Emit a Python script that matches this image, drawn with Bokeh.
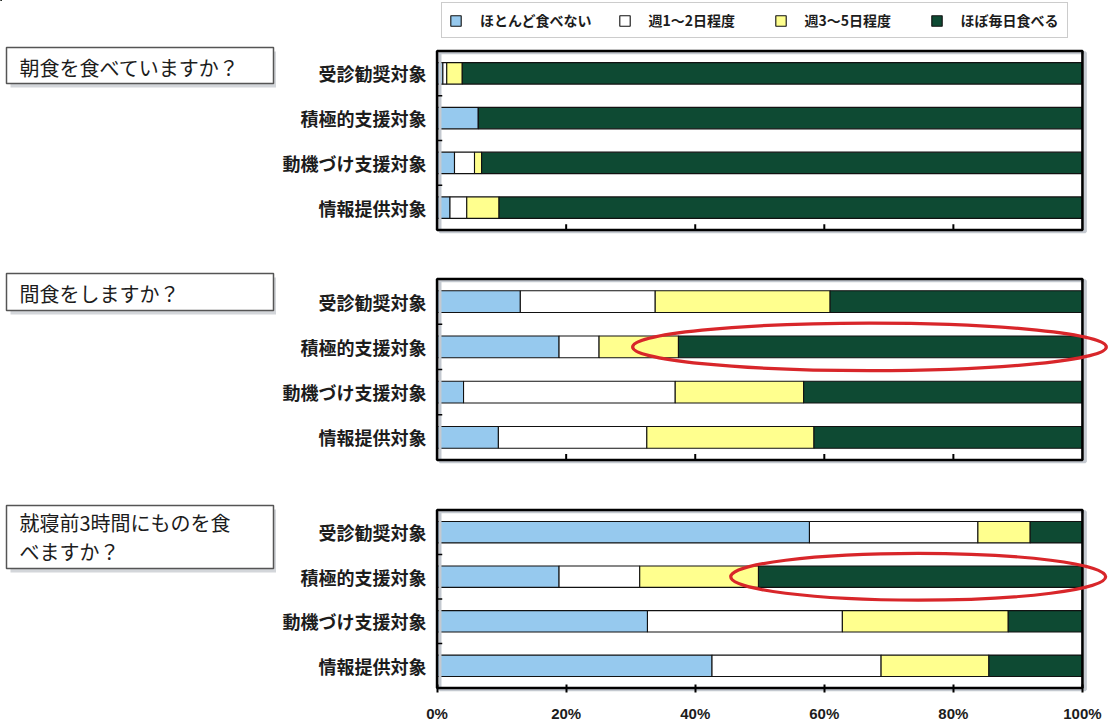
from bokeh.plotting import figure
from bokeh.layouts import column, row
from bokeh.models import (ColumnDataSource, FactorRange, Range1d, FixedTicker,
                          Legend, LegendItem)
from bokeh.core.properties import value
from bokeh.embed import file_html
from bokeh.resources import INLINE

# ---- data -------------------------------------------------------------
GROUPS = ["受診勧奨対象", "積極的支援対象", "動機づけ支援対象", "情報提供対象"]
ANSWERS = ["ほとんど食べない", "週1～2日程度", "週3～5日程度", "ほぼ毎日食べる"]
QUESTIONS = ["朝食を食べていますか？", "間食をしますか？", "就寝前3時間にものを食\nべますか？"]

# share of answers (%), one list per answer, rows follow GROUPS
breakfast_none = [0.9, 6.4, 2.7, 2.0]
breakfast_1_2 = [0.6, 0.0, 3.1, 2.6]
breakfast_3_5 = [2.4, 0.0, 1.1, 5.0]
breakfast_daily = [96.1, 93.6, 93.1, 90.4]

snack_none = [12.9, 18.9, 4.1, 9.5]
snack_1_2 = [20.9, 6.2, 32.8, 23.0]
snack_3_5 = [27.1, 12.3, 19.9, 25.9]
snack_daily = [39.1, 62.6, 43.2, 41.6]

late_none = [57.7, 18.9, 32.6, 42.6]
late_1_2 = [26.1, 12.5, 30.2, 26.2]
late_3_5 = [8.1, 18.4, 25.7, 16.7]
late_daily = [8.1, 50.2, 11.5, 14.5]

PANELS = [
    [breakfast_none, breakfast_1_2, breakfast_3_5, breakfast_daily],
    [snack_none, snack_1_2, snack_3_5, snack_daily],
    [late_none, late_1_2, late_3_5, late_daily],
]

TICKS = [0, 20, 40, 60, 80, 100]
TICK_LABELS = ["0%", "20%", "40%", "60%", "80%", "100%"]

# highlighted spans: (panel index, group, from %, to %)
HIGHLIGHTS = [(1, "積極的支援対象", 30.3, 103.7), (2, "積極的支援対象", 45.5, 103.6)]

# ---- styling ----------------------------------------------------------
COLORS = ["#96C9EE", "#FFFFFF", "#FFFF8E", "#0E4A33"]
JP = "Noto Sans CJK JP"
TEXT = "#1c1c1c"
WIDTH = 1111
LEGEND_H = 44
Q_WIDTH = 276          # width of the question column
P_WIDTH = WIDTH - Q_WIDTH
# per panel: figure height, top border, bottom border
GEOM = [(210, 2, 20), (231, 20, 21), (239, 20, 29)]
# question boxes (pixels from the top of the question column): top, bottom, text centre
Q_BOX = [(3, 39, 23), (229, 266, 249), (461, 524, 492.5)]


def blank_figure(w, h):
    f = figure(width=w, height=h, x_range=Range1d(0, w), y_range=Range1d(h, 0),
               output_backend="svg", toolbar_location=None, title_location=None,
               x_axis_location=None, y_axis_location=None,
               min_border_left=0, min_border_right=0,
               min_border_top=0, min_border_bottom=0)
    f.outline_line_color = None
    f.grid.visible = False
    f.background_fill_color = "white"
    f.border_fill_color = "white"
    return f


# ---- legend strip -----------------------------------------------------
lf = blank_figure(WIDTH, LEGEND_H)
# swatch renderers sit outside the visible range; only their legend glyphs show
swatches = [lf.hbar(y=[-100], left=[0], right=[1], height=1, fill_color=c,
                    line_color="#111111", line_width=1.1) for c in COLORS]
legend = Legend(items=[LegendItem(label=a, renderers=[r]) for a, r in zip(ANSWERS, swatches)],
                location=(441, 6), orientation="horizontal",
                padding=7, spacing=26, margin=0,
                label_width=99, label_standoff=18,
                glyph_width=13, glyph_height=13,
                label_text_font=JP, label_text_font_size="14px",
                label_text_font_style="bold", label_text_color=TEXT,
                border_line_color="#9a9a9a", border_line_width=1.5,
                background_fill_color="white", background_fill_alpha=1)
lf.add_layout(legend)

# ---- question column --------------------------------------------------
qcol = blank_figure(Q_WIDTH, sum(g[0] for g in GEOM))
for text, (top, bottom, mid) in zip(QUESTIONS, Q_BOX):
    qcol.quad(left=10, right=Q_WIDTH, top=top + 4, bottom=bottom + 4,
              fill_color="#d3d6da", line_color=None)
    qcol.quad(left=6, right=273, top=top, bottom=bottom, fill_color="white",
              line_color="#555555", line_width=1.5)
    qcol.text(x=[19], y=[mid], text=[text], text_font=value(JP),
              text_font_size="20px", text_baseline="middle", text_align="left",
              text_line_height=0.97, text_color=TEXT)

# ---- panels -----------------------------------------------------------
keys = ["a0", "a1", "a2", "a3"]
panels = []
for i, shares in enumerate(PANELS):
    h, btop, bbot = GEOM[i]
    last = i == len(PANELS) - 1
    src = ColumnDataSource(dict(group=GROUPS, **dict(zip(keys, shares))))
    y_range = FactorRange(factors=GROUPS[::-1], range_padding=0.1,
                          range_padding_units="absolute")
    p = figure(width=P_WIDTH, height=h, y_range=y_range, x_range=Range1d(-0.4, 104.5),
               output_backend="svg", toolbar_location=None, title_location=None,
               x_axis_location="below" if last else None,
               min_border_left=434 - Q_WIDTH, min_border_right=0,
               min_border_top=btop, min_border_bottom=bbot)
    p.outline_line_color = None
    p.grid.visible = False
    p.background_fill_color = "white"
    p.border_fill_color = "white"

    p.hbar_stack(keys, y="group", height=0.48, fill_color=COLORS,
                 line_color="#111111", line_width=1.1, source=src)

    # plot box and its soft shadow
    n = len(GROUPS)
    p.quad(left=0.45, right=100.45, bottom=-0.04, top=n - 0.04, fill_color=None,
           line_color="#c4c9d0", line_width=3)
    p.quad(left=0, right=100, bottom=0, top=n, fill_color=None,
           line_color="black", line_width=2.6)
    # small marks between categories on the left edge
    bounds = list(range(1, n))
    p.segment(x0=[0] * len(bounds), x1=[0.8] * len(bounds), y0=bounds, y1=bounds,
              line_color="black", line_width=1.3)

    for pi, grp, x0, x1 in HIGHLIGHTS:
        if pi == i:
            p.ellipse(x=[(x0 + x1) / 2], y=[grp], width=[x1 - x0], height=[1.05],
                      fill_color=None, line_color="#D8262A", line_width=3.2)

    if last:
        xa = p.xaxis[0]
        xa.ticker = FixedTicker(ticks=TICKS)
        xa.axis_line_color = None
        xa.major_tick_in = 8
        xa.major_tick_out = 0
        xa.major_tick_line_width = 2
        xa.major_tick_line_color = "black"
        xa.minor_tick_line_color = None
        xa.major_label_overrides = dict(zip(TICKS, TICK_LABELS))
        xa.major_label_text_font = "Liberation Sans"
        xa.major_label_text_font_style = "bold"
        xa.major_label_text_font_size = "15px"
        xa.major_label_text_color = TEXT
        xa.major_label_standoff = 12
    else:
        # inner tick marks on the bottom edge, no labels
        inner = TICKS[1:-1]
        p.segment(x0=inner, x1=inner, y0=[0] * len(inner), y1=[0.13] * len(inner),
                  line_color="black", line_width=2)

    ya = p.yaxis[0]
    ya.axis_line_color = None
    ya.major_tick_line_color = None
    ya.major_tick_out = 0
    ya.major_tick_in = 0
    ya.minor_tick_line_color = None
    ya.major_label_standoff = 8
    ya.major_label_text_font = JP
    ya.major_label_text_font_size = "18px"
    ya.major_label_text_font_style = "bold"
    ya.major_label_text_color = TEXT
    panels.append(p)

layout = column(lf, row(qcol, column(*panels, spacing=0), spacing=0), spacing=0)
open("out.html", "w").write(file_html(layout, INLINE))
